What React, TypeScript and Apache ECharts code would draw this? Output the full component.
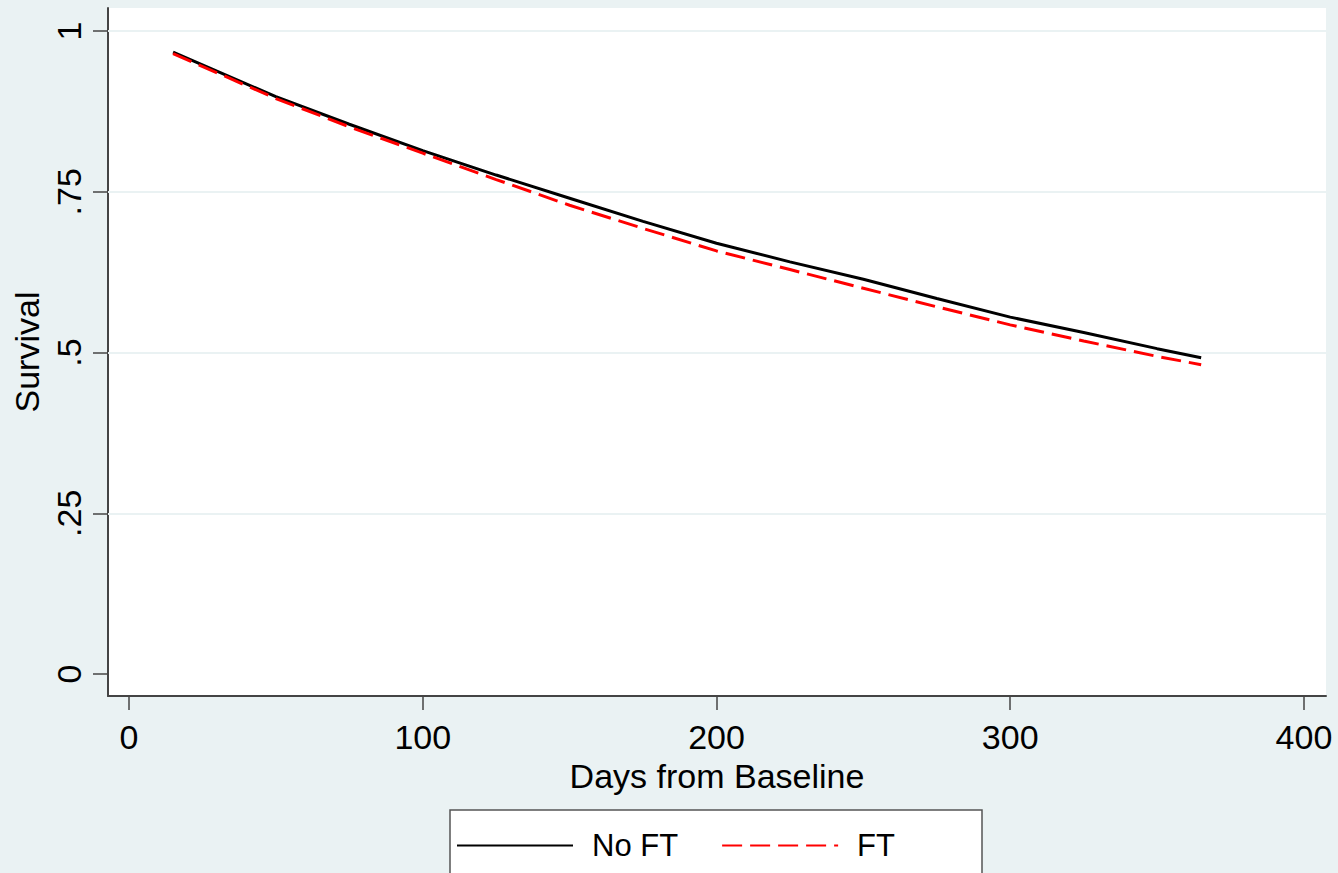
import { useEffect, useRef } from "react";
import * as echarts from "echarts";

const days = [15, 50, 75, 100, 125, 150, 175, 200, 225, 250, 275, 300, 325, 350, 365];
const noFT = [0.967, 0.898, 0.855, 0.814, 0.776, 0.74, 0.704, 0.67, 0.641, 0.614, 0.584, 0.555, 0.531, 0.506, 0.492];
const ft = [0.965, 0.895, 0.851, 0.81, 0.769, 0.729, 0.693, 0.658, 0.629, 0.6, 0.571, 0.543, 0.518, 0.494, 0.481];
const yTicks = [0, 0.25, 0.5, 0.75, 1];
const yGridLines = [0.25, 0.5, 0.75, 1];
const xTicks = [0, 100, 200, 300, 400];
const seriesNames = ["No FT", "FT"];

const FONT = "'Liberation Sans', Arial, Helvetica, sans-serif";
const BG = "#eaf2f3";

export default function App() {
  const ref = useRef<HTMLDivElement>(null);
  useEffect(() => {
    if (!ref.current) return;
    const chart = echarts.init(ref.current, undefined, { renderer: "svg" });
    const fmtY = (v: number) => {
      if (v === 0) return "0";
      if (v === 1) return "1";
      return String(v).replace(/^0/, "");
    };
    chart.setOption({
      animation: false,
      backgroundColor: BG,
      textStyle: { fontFamily: FONT },
      grid: {
        left: 108,
        top: 8,
        right: 12,
        bottom: 177,
        show: true,
        backgroundColor: "#ffffff",
        borderWidth: 0,
        containLabel: false,
      },
      xAxis: {
        type: "value",
        min: -7.15,
        max: 407.5,
        name: "Days from Baseline",
        nameLocation: "middle",
        nameGap: 52,
        nameTextStyle: { fontSize: 34, color: "#000", fontFamily: FONT },
        axisLine: { show: true, onZero: false, lineStyle: { color: "#444", width: 2 } },
        axisTick: { show: true, length: 14, customValues: xTicks, lineStyle: { color: "#444", width: 1.5 } },
        axisLabel: { customValues: xTicks, fontSize: 34, color: "#000", margin: 24, fontFamily: FONT },
        splitLine: { show: false },
      },
      yAxis: {
        type: "value",
        min: -0.0342,
        max: 1.0358,
        name: "Survival",
        nameLocation: "middle",
        nameGap: 62,
        nameTextStyle: { fontSize: 34, color: "#000", fontFamily: FONT },
        axisLine: { show: true, onZero: false, lineStyle: { color: "#444", width: 2 } },
        axisTick: { show: true, length: 15, customValues: yTicks, lineStyle: { color: "#444", width: 1.5 } },
        axisLabel: {
          customValues: yTicks,
          fontSize: 34,
          color: "#000",
          rotate: 90,
          margin: 22,
          fontFamily: FONT,
          formatter: fmtY,
        },
        splitLine: { show: false },
      },
      legend: {
        data: seriesNames,
        left: 456,
        top: 830,
        padding: 0,
        itemWidth: 116,
        itemHeight: 20,
        itemGap: 43,
        itemStyle: { opacity: 0 },
        textStyle: { fontSize: 31, color: "#000", fontFamily: FONT, padding: [0, 0, 0, 14] },
      },
      graphic: [
        {
          type: "rect",
          z: 0,
          shape: { x: 450, y: 810, width: 532, height: 90 },
          style: { fill: "#ffffff", stroke: "#555", lineWidth: 1.5 },
          silent: true,
        },
      ],
      series: [
        {
          name: "grid",
          type: "line",
          data: [],
          silent: true,
          markLine: {
            silent: true,
            z: 1,
            symbol: ["none", "none"],
            label: { show: false },
            lineStyle: { color: BG, width: 2, type: "solid" },
            emphasis: { disabled: true },
            data: yGridLines.map((v) => ({ yAxis: v })),
          },
        },
        {
          name: seriesNames[1],
          type: "line",
          z: 3,
          data: days.map((d, i) => [d, ft[i]]),
          showSymbol: false,
          symbol: "none",
          lineStyle: { color: "#ff0000", width: 3, type: [20, 8] },
          itemStyle: { color: "#ff0000" },
        },
        {
          name: seriesNames[0],
          type: "line",
          z: 2,
          data: days.map((d, i) => [d, noFT[i]]),
          showSymbol: false,
          symbol: "none",
          lineStyle: { color: "#000000", width: 3, type: "solid" },
          itemStyle: { color: "#000000" },
        },
      ],
    });
    return () => chart.dispose();
  }, []);
  return (
    <div
      ref={ref}
      style={{ position: "fixed", left: 0, top: 0, width: 1338, height: 873 }}
    />
  );
}
